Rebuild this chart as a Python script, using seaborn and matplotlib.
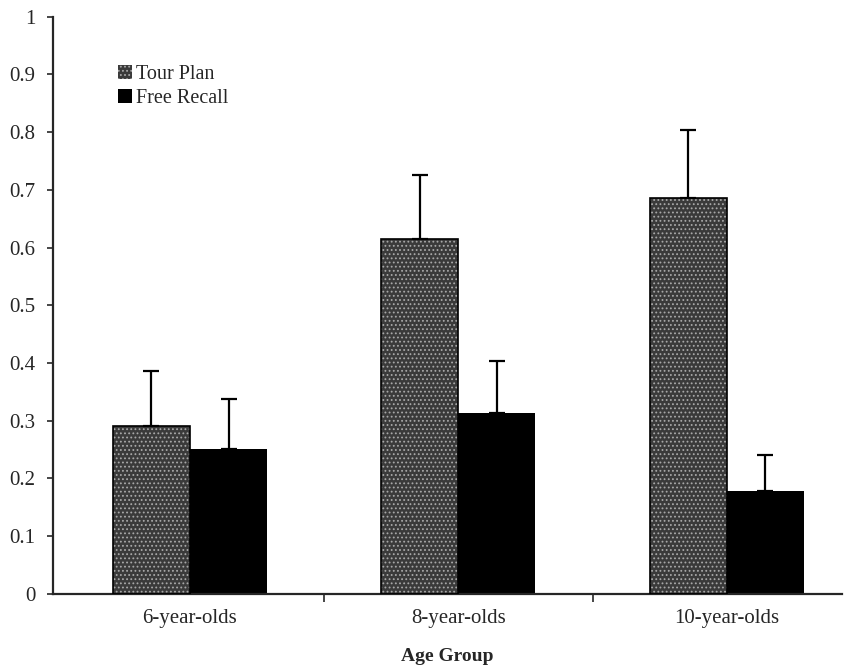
import numpy as np
import pandas as pd
import seaborn as sns
import matplotlib.pyplot as plt
from matplotlib.patches import Rectangle
from matplotlib.ticker import FuncFormatter, FixedLocator

groups = ["6-year-olds", "8-year-olds", "10-year-olds"]
conditions = ["Tour Plan", "Free Recall"]
tour_plan = [0.291, 0.615, 0.686]
free_recall = [0.251, 0.314, 0.178]
tour_plan_err = [0.096, 0.111, 0.118]
free_recall_err = [0.086, 0.089, 0.062]

df = pd.DataFrame({
    "group": groups * 2,
    "condition": [conditions[0]] * 3 + [conditions[1]] * 3,
    "value": tour_plan + free_recall,
    "err": tour_plan_err + free_recall_err,
})

sns.set_style("ticks")
plt.rcParams["font.family"] = ["Liberation Serif", "DejaVu Serif"]
plt.rcParams["hatch.linewidth"] = 0.8

fig = plt.figure(figsize=(8.56, 6.71), dpi=100)
ax = fig.add_axes([0.062, 0.115, 0.922, 0.86])

palette = {"Tour Plan": "#3a3a3a", "Free Recall": "#000000"}
sns.barplot(data=df, x="group", y="value", hue="condition", order=groups,
            hue_order=conditions, palette=palette, width=0.574, errorbar=None,
            saturation=1, ax=ax, linewidth=0)

# texture for the Tour Plan bars + error bars
n = len(groups)
for i, p in enumerate(ax.patches[:2 * n]):
    cond = i // n
    if cond == 0:
        p.set_hatch("....")
        p.set_edgecolor("#a8a8a8")
        ax.add_patch(Rectangle((p.get_x(), 0), p.get_width(), p.get_height(),
                               fill=False, edgecolor="black", linewidth=1.2, zorder=3))
    err = df["err"].iloc[i]
    xc = p.get_x() + p.get_width() / 2
    ax.errorbar(xc, p.get_height(), yerr=[[0], [err]], fmt="none",
                ecolor="black", elinewidth=1.6, capsize=6, capthick=1.6, zorder=4)

ax.set_ylim(0, 1)
ax.set_xlim(-0.51, 2.43)
ax.set_yticks(np.arange(0, 1.01, 0.1))
ax.yaxis.set_major_formatter(FuncFormatter(lambda v, _: f"{v:g}"))
ax.tick_params(axis="y", length=4.5, width=1.2, labelsize=15, pad=8)
ax.tick_params(axis="x", which="major", length=0, labelsize=15, pad=11)
ax.xaxis.set_minor_locator(FixedLocator([0.5, 1.5]))
ax.tick_params(axis="x", which="minor", length=6, width=1.2)

for s in ["top", "right"]:
    ax.spines[s].set_visible(False)
ax.spines["left"].set_linewidth(1.6)
ax.spines["bottom"].set_linewidth(1.6)

ax.set_xlabel("Age Group", fontsize=14, fontweight="bold", labelpad=14)
ax.set_ylabel("")

handles, labels = ax.get_legend_handles_labels()
leg = ax.legend(handles, labels, loc="upper left", bbox_to_anchor=(0.072, 0.93),
                frameon=False, fontsize=14.5, handlelength=0.7, handleheight=0.7,
                handletextpad=0.2, labelspacing=0.25, borderaxespad=0)
leg.legend_handles[0].set_hatch("....")
leg.legend_handles[0].set_edgecolor("#a8a8a8")

fig.savefig("out.png", dpi=100)
